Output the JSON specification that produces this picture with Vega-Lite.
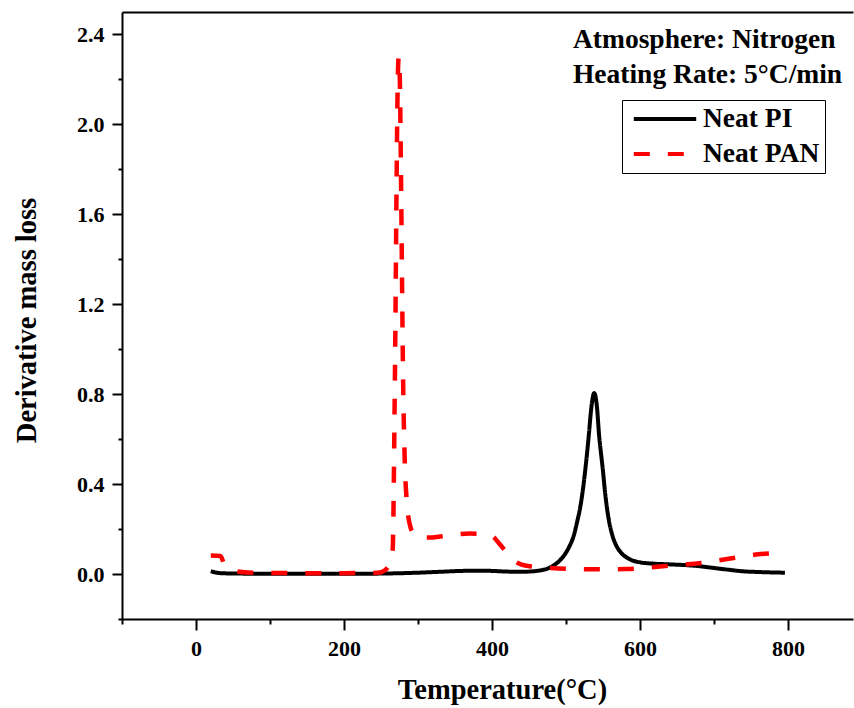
{
  "$schema": "https://vega.github.io/schema/vega-lite/v6.json",
  "width": 731,
  "height": 607,
  "autosize": "none",
  "padding": {"left": 122, "top": 12, "right": 1, "bottom": 89},
  "background": "white",
  "config": {
    "view": {"stroke": null},
    "font": "Liberation Serif",
    "axis": {
      "domainColor": "black", "domainWidth": 2, "tickColor": "black", "tickWidth": 2,
      "labelFont": "Liberation Serif", "labelFontWeight": "bold", "labelFontSize": 22, "labelColor": "black",
      "titleFont": "Liberation Serif", "titleFontWeight": "bold", "titleFontSize": 28.5, "titleColor": "black",
      "grid": false
    },
    "legend": {
      "orient": "none", "legendX": 500, "legendY": 88,
      "fillColor": "white", "strokeColor": "black", "strokeWidth": 1,
      "padding": 5, "symbolType": "M-2.6,0H2.6", "symbolSize": 576, "symbolStrokeWidth": 4,
      "symbolOffset": 24, "labelOffset": 24,
      "labelFont": "Liberation Serif", "labelFontWeight": "bold", "labelFontSize": 27.5, "labelColor": "black",
      "rowPadding": 7, "titlePadding": 0
    }
  },
  "data": {"values": [
    {"series": "Neat PI", "T": 20, "d": 0.013}, {"series": "Neat PI", "T": 25, "d": 0.008}, {"series": "Neat PI", "T": 30, "d": 0.005},
    {"series": "Neat PI", "T": 40, "d": 0.003}, {"series": "Neat PI", "T": 60, "d": 0.002}, {"series": "Neat PI", "T": 100, "d": 0.001},
    {"series": "Neat PI", "T": 150, "d": 0.001}, {"series": "Neat PI", "T": 200, "d": 0.001}, {"series": "Neat PI", "T": 250, "d": 0.002},
    {"series": "Neat PI", "T": 280, "d": 0.004}, {"series": "Neat PI", "T": 300, "d": 0.006}, {"series": "Neat PI", "T": 330, "d": 0.01},
    {"series": "Neat PI", "T": 360, "d": 0.014}, {"series": "Neat PI", "T": 380, "d": 0.015}, {"series": "Neat PI", "T": 400, "d": 0.014},
    {"series": "Neat PI", "T": 420, "d": 0.011}, {"series": "Neat PI", "T": 440, "d": 0.010}, {"series": "Neat PI", "T": 455, "d": 0.012},
    {"series": "Neat PI", "T": 465, "d": 0.016}, {"series": "Neat PI", "T": 475, "d": 0.024}, {"series": "Neat PI", "T": 485, "d": 0.042},
    {"series": "Neat PI", "T": 490, "d": 0.055}, {"series": "Neat PI", "T": 495, "d": 0.072}, {"series": "Neat PI", "T": 500, "d": 0.095},
    {"series": "Neat PI", "T": 505, "d": 0.125}, {"series": "Neat PI", "T": 510, "d": 0.165}, {"series": "Neat PI", "T": 515, "d": 0.23},
    {"series": "Neat PI", "T": 520, "d": 0.31}, {"series": "Neat PI", "T": 525, "d": 0.43}, {"series": "Neat PI", "T": 528, "d": 0.52},
    {"series": "Neat PI", "T": 531, "d": 0.62}, {"series": "Neat PI", "T": 534, "d": 0.73}, {"series": "Neat PI", "T": 536, "d": 0.78},
    {"series": "Neat PI", "T": 538, "d": 0.805}, {"series": "Neat PI", "T": 540, "d": 0.79}, {"series": "Neat PI", "T": 542, "d": 0.74},
    {"series": "Neat PI", "T": 545, "d": 0.61}, {"series": "Neat PI", "T": 548, "d": 0.52}, {"series": "Neat PI", "T": 550, "d": 0.46},
    {"series": "Neat PI", "T": 553, "d": 0.36}, {"series": "Neat PI", "T": 557, "d": 0.26}, {"series": "Neat PI", "T": 563, "d": 0.17},
    {"series": "Neat PI", "T": 570, "d": 0.115}, {"series": "Neat PI", "T": 575, "d": 0.093}, {"series": "Neat PI", "T": 585, "d": 0.068},
    {"series": "Neat PI", "T": 600, "d": 0.052}, {"series": "Neat PI", "T": 620, "d": 0.046}, {"series": "Neat PI", "T": 640, "d": 0.043},
    {"series": "Neat PI", "T": 660, "d": 0.040}, {"series": "Neat PI", "T": 680, "d": 0.035}, {"series": "Neat PI", "T": 700, "d": 0.027},
    {"series": "Neat PI", "T": 720, "d": 0.019}, {"series": "Neat PI", "T": 740, "d": 0.012}, {"series": "Neat PI", "T": 760, "d": 0.009},
    {"series": "Neat PI", "T": 780, "d": 0.007}, {"series": "Neat PI", "T": 796, "d": 0.006},
    {"series": "Neat PAN", "T": 20, "d": 0.082}, {"series": "Neat PAN", "T": 33, "d": 0.08}, {"series": "Neat PAN", "T": 38, "d": 0.045},
    {"series": "Neat PAN", "T": 45, "d": 0.025}, {"series": "Neat PAN", "T": 55, "d": 0.012}, {"series": "Neat PAN", "T": 70, "d": 0.007},
    {"series": "Neat PAN", "T": 100, "d": 0.005}, {"series": "Neat PAN", "T": 150, "d": 0.004}, {"series": "Neat PAN", "T": 200, "d": 0.004},
    {"series": "Neat PAN", "T": 240, "d": 0.005}, {"series": "Neat PAN", "T": 250, "d": 0.008}, {"series": "Neat PAN", "T": 256, "d": 0.018},
    {"series": "Neat PAN", "T": 261, "d": 0.04}, {"series": "Neat PAN", "T": 264, "d": 0.065}, {"series": "Neat PAN", "T": 266, "d": 0.12},
    {"series": "Neat PAN", "T": 267, "d": 0.3}, {"series": "Neat PAN", "T": 268, "d": 0.6}, {"series": "Neat PAN", "T": 269.5, "d": 1.1},
    {"series": "Neat PAN", "T": 271, "d": 1.7}, {"series": "Neat PAN", "T": 272.5, "d": 2.15}, {"series": "Neat PAN", "T": 274, "d": 2.3},
    {"series": "Neat PAN", "T": 275.5, "d": 2.2}, {"series": "Neat PAN", "T": 277, "d": 1.8}, {"series": "Neat PAN", "T": 278.5, "d": 1.3},
    {"series": "Neat PAN", "T": 280, "d": 0.85}, {"series": "Neat PAN", "T": 282, "d": 0.52}, {"series": "Neat PAN", "T": 285, "d": 0.32},
    {"series": "Neat PAN", "T": 289, "d": 0.22}, {"series": "Neat PAN", "T": 294, "d": 0.18}, {"series": "Neat PAN", "T": 300, "d": 0.165},
    {"series": "Neat PAN", "T": 315, "d": 0.162}, {"series": "Neat PAN", "T": 330, "d": 0.167}, {"series": "Neat PAN", "T": 350, "d": 0.175},
    {"series": "Neat PAN", "T": 370, "d": 0.18}, {"series": "Neat PAN", "T": 390, "d": 0.178}, {"series": "Neat PAN", "T": 400, "d": 0.17},
    {"series": "Neat PAN", "T": 410, "d": 0.135}, {"series": "Neat PAN", "T": 420, "d": 0.095}, {"series": "Neat PAN", "T": 430, "d": 0.06},
    {"series": "Neat PAN", "T": 440, "d": 0.042}, {"series": "Neat PAN", "T": 455, "d": 0.033}, {"series": "Neat PAN", "T": 480, "d": 0.027},
    {"series": "Neat PAN", "T": 520, "d": 0.022}, {"series": "Neat PAN", "T": 550, "d": 0.021}, {"series": "Neat PAN", "T": 580, "d": 0.022},
    {"series": "Neat PAN", "T": 600, "d": 0.025}, {"series": "Neat PAN", "T": 620, "d": 0.031}, {"series": "Neat PAN", "T": 640, "d": 0.037},
    {"series": "Neat PAN", "T": 660, "d": 0.042}, {"series": "Neat PAN", "T": 680, "d": 0.048}, {"series": "Neat PAN", "T": 700, "d": 0.058},
    {"series": "Neat PAN", "T": 720, "d": 0.068}, {"series": "Neat PAN", "T": 740, "d": 0.078}, {"series": "Neat PAN", "T": 760, "d": 0.088},
    {"series": "Neat PAN", "T": 780, "d": 0.093}, {"series": "Neat PAN", "T": 797, "d": 0.097}
  ]},
  "resolve": {"axis": {"x": "independent", "y": "independent"}},
  "layer": [
    {
      "transform": [{"filter": "datum.series === 'Neat PI'"}],
      "mark": {"type": "line", "strokeWidth": 4, "interpolate": "monotone", "clip": true},
      "encoding": {
        "x": {"field": "T", "type": "quantitative",
          "scale": {"domain": [-100, 888], "nice": false, "zero": false},
          "axis": {"orient": "bottom", "title": "Temperature(°C)",
            "values": [-100, 0, 100, 200, 300, 400, 500, 600, 700, 800],
            "tickSize": {"condition": {"test": "datum.value % 200 === 0", "value": 11}, "value": 5},
            "labelExpr": "datum.value % 200 === 0 ? datum.label : ''",
            "labelPadding": 8, "labelFlush": false,
            "titleX": 380, "titleY": 79, "titleAlign": "center", "titleBaseline": "alphabetic"}},
        "y": {"field": "d", "type": "quantitative",
          "scale": {"domain": [-0.2, 2.5], "nice": false, "zero": false},
          "axis": {"orient": "left", "title": "Derivative mass loss",
            "values": [-0.2, 0, 0.2, 0.4, 0.6, 0.8, 1.0, 1.2, 1.4, 1.6, 1.8, 2.0, 2.2, 2.4],
            "format": ".1f",
            "tickSize": {"condition": {"test": "round(datum.value * 10) % 4 === 0", "value": 10}, "value": 4},
            "labelExpr": "round(datum.value * 10) % 4 === 0 ? datum.label : ''",
            "labelPadding": 8, "labelFlush": false,
            "titleAngle": 270, "titleX": -87, "titleY": 308, "titleAlign": "center", "titleBaseline": "alphabetic"}},
        "color": {"field": "series", "type": "nominal", "title": null,
          "scale": {"domain": ["Neat PI", "Neat PAN"], "range": ["#000000", "#ff0000"]}},
        "strokeDash": {"field": "series", "type": "nominal", "title": null,
          "scale": {"domain": ["Neat PI", "Neat PAN"], "range": [[1, 0], [16, 18]]}}
      }
    },
    {
      "transform": [{"filter": "datum.series === 'Neat PAN'"}],
      "mark": {"type": "line", "strokeWidth": 4.5, "interpolate": "monotone", "clip": true},
      "encoding": {
        "x": {"field": "T", "type": "quantitative",
          "axis": {"orient": "top", "title": null, "labels": false, "ticks": false, "domain": true}},
        "y": {"field": "d", "type": "quantitative", "axis": null},
        "color": {"field": "series", "type": "nominal", "title": null},
        "strokeDash": {"field": "series", "type": "nominal", "title": null}
      }
    },
    {
      "data": {"values": [{"t": "Atmosphere: Nitrogen"}]},
      "mark": {"type": "text", "align": "left", "baseline": "alphabetic", "font": "Liberation Serif", "fontWeight": "bold", "fontSize": 27.5, "color": "black"},
      "encoding": {
        "x": {"datum": 509.5, "type": "quantitative", "axis": null},
        "y": {"datum": 2.339, "type": "quantitative", "axis": null},
        "text": {"field": "t"}
      }
    },
    {
      "data": {"values": [{"t": "Heating Rate: 5°C/min"}]},
      "mark": {"type": "text", "align": "left", "baseline": "alphabetic", "font": "Liberation Serif", "fontWeight": "bold", "fontSize": 27.5, "color": "black"},
      "encoding": {
        "x": {"datum": 509.5, "type": "quantitative", "axis": null},
        "y": {"datum": 2.183, "type": "quantitative", "axis": null},
        "text": {"field": "t"}
      }
    }
  ]
}
